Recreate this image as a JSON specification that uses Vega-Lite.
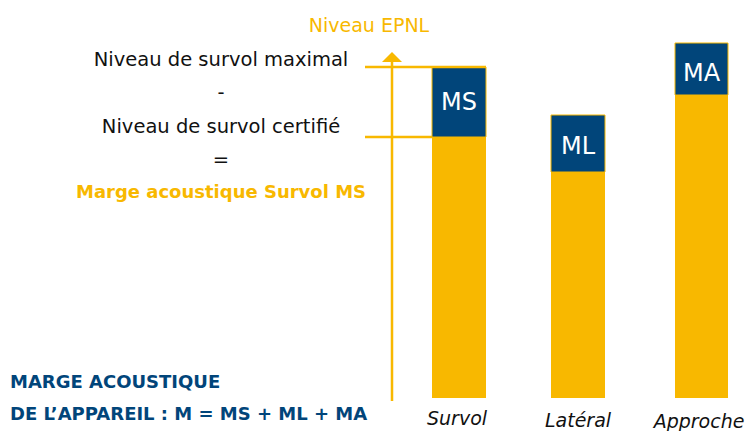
{
  "$schema": "https://vega.github.io/schema/vega-lite/v6.json",
  "width": 752,
  "height": 431,
  "padding": 0,
  "autosize": {"type": "none"},
  "config": {"view": {"stroke": null}, "font": "DejaVu Sans"},
  "datasets": {
    "bars": [
      {"procedure": "Survol", "marge": "MS", "x0": 432, "x1": 486, "xc": 459, "base": 0, "certifie": 261, "maximal": 331, "labelY": 295},
      {"procedure": "Latéral", "marge": "ML", "x0": 551, "x1": 605, "xc": 578, "base": 0, "certifie": 226, "maximal": 283, "labelY": 251},
      {"procedure": "Approche", "marge": "MA", "x0": 675, "x1": 728, "xc": 701.5, "base": 0, "certifie": 303, "maximal": 355, "labelY": 324}
    ],
    "cats": [
      {"label": "Survol", "x": 457, "y": -21},
      {"label": "Latéral", "x": 578, "y": -23},
      {"label": "Approche", "x": 699, "y": -24}
    ],
    "hrules": [
      {"x": 365, "x2": 486, "y": 331},
      {"x": 365, "x2": 432, "y": 261}
    ],
    "axis": [{"x": 392, "y": -3, "y2": 337}],
    "arrow": [{"x": 392, "y": 341}],
    "epnl": [{"t": "Niveau EPNL", "x": 369, "y": 372}],
    "formula": [
      {"t": "Niveau de survol maximal", "x": 221, "y": 338},
      {"t": "-", "x": 221, "y": 305},
      {"t": "Niveau de survol certifié", "x": 221, "y": 271},
      {"t": "=", "x": 221, "y": 238}
    ],
    "result": [{"t": "Marge acoustique Survol MS", "x": 221, "y": 205}],
    "total": [
      {"t": "MARGE ACOUSTIQUE", "x": 10, "y": 15},
      {"t": "DE L’APPAREIL : M = MS + ML + MA", "x": 10, "y": -17}
    ]
  },
  "layer": [
    {
      "data": {"name": "bars"},
      "mark": {"type": "rect", "color": "#F8B800"},
      "encoding": {
        "x": {"field": "x0", "type": "quantitative", "scale": {"domain": [0, 752], "nice": false, "zero": false}, "axis": null},
        "x2": {"field": "x1"},
        "y": {"field": "base", "type": "quantitative", "scale": {"domain": [-33, 398], "nice": false, "zero": false}, "axis": null},
        "y2": {"field": "certifie"}
      }
    },
    {
      "data": {"name": "bars"},
      "mark": {"type": "rect", "fill": "#01457A", "stroke": "#F8B800", "strokeWidth": 1},
      "encoding": {
        "x": {"field": "x0", "type": "quantitative"},
        "x2": {"field": "x1"},
        "y": {"field": "certifie", "type": "quantitative"},
        "y2": {"field": "maximal"}
      }
    },
    {
      "data": {"name": "bars"},
      "mark": {"type": "text", "color": "white", "fontSize": 24, "baseline": "middle", "align": "center"},
      "encoding": {
        "x": {"field": "xc", "type": "quantitative"},
        "y": {"field": "labelY", "type": "quantitative"},
        "text": {"field": "marge"}
      }
    },
    {
      "data": {"name": "hrules"},
      "mark": {"type": "rule", "color": "#F8B800", "strokeWidth": 2.5},
      "encoding": {
        "x": {"field": "x", "type": "quantitative"},
        "x2": {"field": "x2"},
        "y": {"field": "y", "type": "quantitative"}
      }
    },
    {
      "data": {"name": "axis"},
      "mark": {"type": "rule", "color": "#F8B800", "strokeWidth": 2.5},
      "encoding": {
        "x": {"field": "x", "type": "quantitative"},
        "y": {"field": "y", "type": "quantitative"},
        "y2": {"field": "y2"}
      }
    },
    {
      "data": {"name": "arrow"},
      "mark": {"type": "point", "filled": true, "color": "#F8B800", "opacity": 1, "shape": "M-1,0.5L1,0.5L0,-0.5Z", "size": 400},
      "encoding": {
        "x": {"field": "x", "type": "quantitative"},
        "y": {"field": "y", "type": "quantitative"}
      }
    },
    {
      "data": {"name": "epnl"},
      "mark": {"type": "text", "color": "#F8B800", "fontSize": 19, "letterSpacing": 0.8, "baseline": "middle", "align": "center"},
      "encoding": {
        "x": {"field": "x", "type": "quantitative"},
        "y": {"field": "y", "type": "quantitative"},
        "text": {"field": "t"}
      }
    },
    {
      "data": {"name": "formula"},
      "mark": {"type": "text", "color": "#111111", "fontSize": 19.5, "baseline": "middle", "align": "center"},
      "encoding": {
        "x": {"field": "x", "type": "quantitative"},
        "y": {"field": "y", "type": "quantitative"},
        "text": {"field": "t"}
      }
    },
    {
      "data": {"name": "result"},
      "mark": {"type": "text", "color": "#F8B800", "fontSize": 18, "fontWeight": "bold", "baseline": "middle", "align": "center"},
      "encoding": {
        "x": {"field": "x", "type": "quantitative"},
        "y": {"field": "y", "type": "quantitative"},
        "text": {"field": "t"}
      }
    },
    {
      "data": {"name": "total"},
      "mark": {"type": "text", "color": "#01457A", "fontSize": 18, "fontWeight": "bold", "baseline": "middle", "align": "left"},
      "encoding": {
        "x": {"field": "x", "type": "quantitative"},
        "y": {"field": "y", "type": "quantitative"},
        "text": {"field": "t"}
      }
    },
    {
      "data": {"name": "cats"},
      "mark": {"type": "text", "color": "#111111", "fontSize": 19, "fontStyle": "italic", "baseline": "middle", "align": "center"},
      "encoding": {
        "x": {"field": "x", "type": "quantitative"},
        "y": {"field": "y", "type": "quantitative"},
        "text": {"field": "label"}
      }
    }
  ]
}
